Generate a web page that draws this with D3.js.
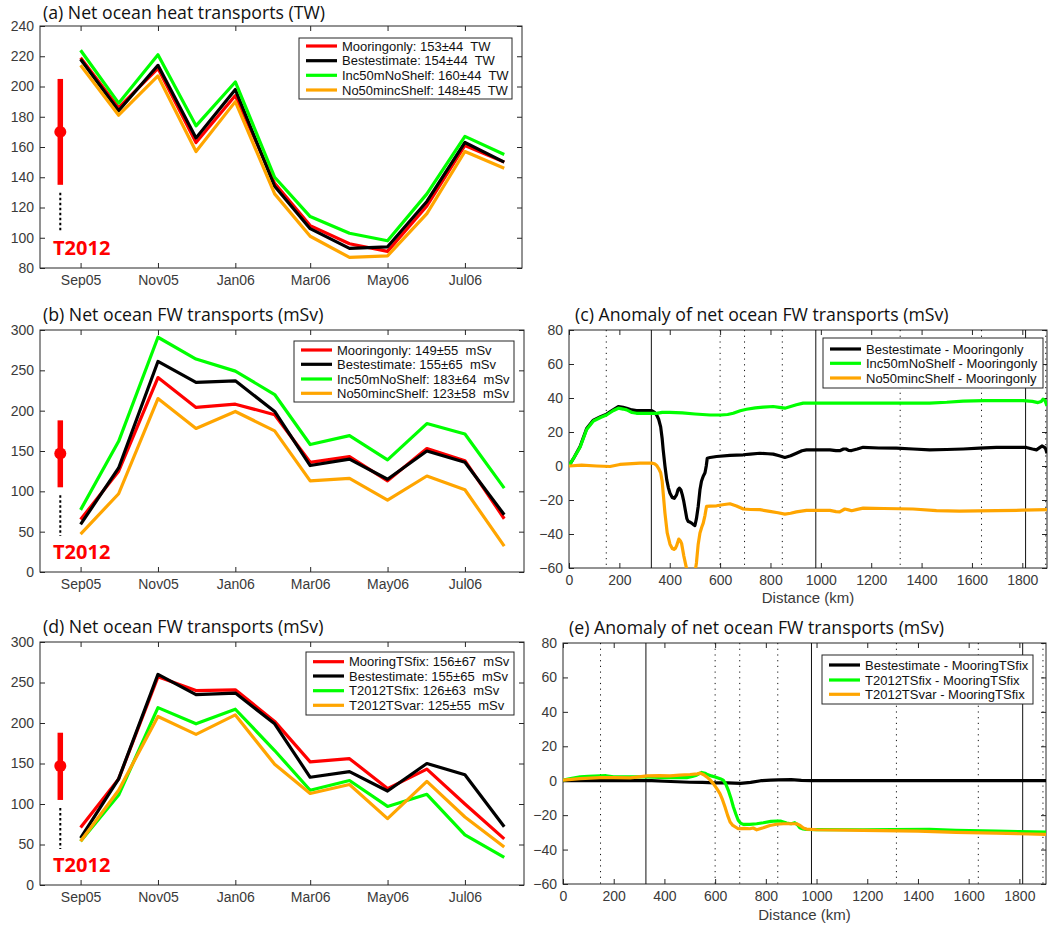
<!DOCTYPE html>
<html>
<head>
<meta charset="utf-8">
<script src="https://cdn.jsdelivr.net/npm/d3@7/dist/d3.min.js"></script>
<style>
  html, body { margin: 0; padding: 0; background: #fff; }
  svg { display: block; }
  .tick text { font-family: "Liberation Sans", Arial, sans-serif; font-size: 14px; fill: #3a3a3a; }
  .title { font-family: "Open Sans", sans-serif; font-size: 17.7px; fill: #111; }
  .leg { font-family: "Liberation Sans", Arial, sans-serif; font-size: 13px; fill: #111; white-space: pre; }
  .xlab { font-family: "Liberation Sans", Arial, sans-serif; font-size: 15px; fill: #3a3a3a; }
  .t2012 { font-family: "Open Sans", sans-serif; font-weight: 700; font-size: 20px; fill: #ff0000; }
</style>
</head>
<body>
<svg id="chart" width="1048" height="925"></svg>
<script>
// ---------------- DATA ----------------
const months = ["2005-09-01","2005-10-01","2005-11-01","2005-12-01","2006-01-01","2006-02-01",
                "2006-03-01","2006-04-01","2006-05-01","2006-06-01","2006-07-01","2006-08-01"];
const timeTicks = ["2005-09-01","2005-11-01","2006-01-01","2006-03-01","2006-05-01","2006-07-01"];

// (a) Net ocean heat transports (TW)
const heatMooringonly   = [219, 186, 212, 163, 194, 136, 108, 96, 91, 121, 161, 150];
const heatBestestimate  = [218, 184, 214, 166, 198, 134, 106, 93, 94, 124, 163, 150];
const heatInc50mNoShelf = [224, 189, 221, 174, 203, 140, 114, 103, 98, 129, 167, 155];
const heatNo50mincShelf = [214, 181, 207, 157, 190, 129, 101, 87, 88, 116, 157, 146];
const heatLabels = ["Mooringonly: 153\u00b144  TW", "Bestestimate: 154\u00b144  TW",
                    "Inc50mNoShelf: 160\u00b144  TW", "No50mincShelf: 148\u00b145  TW"];
const heatT2012 = [170, 135, 205];   // centre, low, high
const heatYTicks = [80, 100, 120, 140, 160, 180, 200, 220, 240];

// (b) Net ocean FW transports (mSv)
const fwMooringonly   = [65, 125, 241, 204, 208, 195, 136, 143, 113, 153, 138, 66];
const fwBestestimate  = [59, 129, 261, 235, 237, 199, 132, 140, 115, 150, 136, 71];
const fwInc50mNoShelf = [77, 162, 291, 264, 249, 220, 158, 169, 139, 184, 171, 104];
const fwNo50mincShelf = [47, 97, 215, 178, 199, 175, 113, 116, 89, 119, 102, 32];
const fwLabels = ["Mooringonly: 149\u00b155  mSv", "Bestestimate: 155\u00b165  mSv",
                  "Inc50mNoShelf: 183\u00b164  mSv", "No50mincShelf: 123\u00b158  mSv"];
const fwT2012 = [147, 105, 188];
const fwYTicks = [0, 50, 100, 150, 200, 250, 300];

// (d) Net ocean FW transports (mSv)
const fwMooringTSfix   = [71, 131, 257, 240, 241, 202, 152, 156, 119, 143, 100, 57];
const fwBestestimateD  = [58, 131, 260, 235, 237, 199, 133, 140, 116, 150, 136, 72];
const fwT2012TSfix     = [54, 111, 219, 199, 217, 166, 117, 129, 97, 112, 62, 34];
const fwT2012TSvar     = [54, 117, 208, 186, 210, 149, 113, 124, 82, 128, 84, 47];
const fwDLabels = ["MooringTSfix: 156\u00b167  mSv", "Bestestimate: 155\u00b165  mSv",
                   "T2012TSfix: 126\u00b163  mSv", "T2012TSvar: 125\u00b155  mSv"];
const fwDT2012 = [147, 105, 188];

// (c) Anomaly of net ocean FW transports (mSv) vs distance (km)
const cBest = [[0,0],[20,5],[44,11.5],[70,22],[97,27],[125,29],[149,30.5],[175,33],[196,35],[215,34.5],[229,34],[250,33],[268,32.6],[300,32.6],[328,32.6],[340,31.5],[348,30],[356,27.5],[364,23],[370,16],[374,9.5],[381,0],[388,-8],[395,-13],[401,-16],[410,-18.5],[418,-19],[427,-17],[433,-14],[438,-13],[444,-14],[450,-17],[456,-21],[462,-26],[468,-31],[473,-32.6],[480,-33],[487,-33.6],[494,-34.5],[500,-35],[506,-31],[513,-23.8],[520,-14],[526,-9],[533,-6],[540,-4],[545,0],[549,4.6],[560,5],[586,5.6],[639,6.2],[692,6.6],[720,7],[758,7.5],[790,7.2],[811,7],[835,6],[857,5],[880,6],[903,7.5],[925,9],[943,9.5],[1000,9.5],[1036,9.5],[1060,9],[1075,9],[1090,10],[1100,10],[1110,9.2],[1122,9.1],[1145,10],[1168,11],[1230,10.6],[1300,10.5],[1366,10],[1432,9.5],[1500,9.7],[1565,10],[1630,10.5],[1697,10.9],[1760,11],[1816,10.9],[1840,10],[1856,9.5],[1866,10.5],[1878,11.8],[1888,11],[1893,10],[1898,7.5]];
const cInc = [[0,0],[20,5],[44,11],[70,21.5],[97,26.5],[125,28.5],[149,30],[175,32.5],[196,34],[215,33.5],[229,33],[250,31.5],[268,31],[300,31],[328,31],[348,31],[370,31.5],[400,31.6],[450,31.2],[500,30.6],[560,30],[603,30],[630,30.3],[652,31],[680,32.5],[705,33.4],[740,34.2],[771,34.6],[811,35],[835,34.5],[857,34],[880,35],[903,36],[930,37],[983,37],[1100,37],[1200,37],[1300,37],[1432,37],[1500,37.5],[1565,38.2],[1650,38.5],[1750,38.5],[1803,38.5],[1840,38],[1862,37.3],[1875,38],[1882,39.3],[1890,38.5],[1898,35.4]];
const cNo = [[0,0],[50,0.5],[110,0],[163,-0.3],[202,0.9],[250,1.4],[282,1.7],[328,1.7],[340,1.3],[348,0.3],[356,-1.5],[364,-4],[370,-9],[374,-16],[381,-27.7],[390,-39.4],[401,-46],[410,-48.5],[417,-49],[422,-48.5],[427,-47],[436,-43],[442,-44],[447,-45.5],[456,-53],[467,-60.5],[475,-66],[485,-68],[495,-66],[502,-61],[506,-57],[513,-46],[520,-39.4],[527,-36],[533,-33.6],[540,-29],[546,-23.8],[560,-23.6],[586,-23.4],[610,-22.8],[639,-22.2],[665,-23.5],[692,-25.3],[720,-25.6],[758,-25.7],[797,-26.7],[830,-27.5],[857,-28.3],[880,-27.8],[903,-27],[943,-26.1],[1000,-26.1],[1036,-26.1],[1060,-26.8],[1075,-27],[1095,-25.3],[1110,-25.8],[1122,-26.3],[1145,-25.5],[1168,-24.8],[1250,-25],[1366,-25.3],[1459,-26.3],[1550,-26.5],[1697,-26.3],[1800,-26],[1898,-25.7]];
const cLabels = ["Bestestimate - Mooringonly", "Inc50mNoShelf - Mooringonly", "No50mincShelf - Mooringonly"];

// (e) Anomaly of net ocean FW transports (mSv) vs distance (km)
const eBest = [[0,0],[100,0],[200,0],[300,0],[350,0],[400,-0.3],[450,-0.6],[500,-0.9],[550,-1],[600,-1.2],[650,-1.3],[700,-1.5],[740,-1],[780,0],[820,0.3],[850,0.5],[900,0.6],[940,0.2],[980,0],[1100,0],[1300,0],[1500,0],[1700,0],[1905,0]];
const eTSfix = [[0,0.3],[30,1.2],[68,2.2],[100,2.6],[147,2.8],[170,2.9],[199,2.2],[260,2.2],[324,2.2],[360,2],[396,1.8],[450,1.8],[488,1.8],[510,2.5],[527,3.2],[547,4.8],[560,4.3],[567,3.8],[585,2.8],[600,2.2],[620,1.2],[632,0.3],[642,-2],[652,-5.6],[662,-10],[672,-15.3],[682,-19.5],[691,-23],[700,-24.6],[711,-25.4],[737,-25.4],[764,-25],[790,-24.4],[820,-23.6],[842,-23.4],[860,-23.5],[882,-24.6],[900,-25],[914,-24.4],[924,-25.5],[934,-27.3],[947,-28],[960,-28.3],[1000,-28.4],[1183,-28.5],[1300,-28.4],[1446,-28.3],[1550,-28.8],[1708,-29.3],[1800,-29.6],[1905,-29.9]];
const eTSvar = [[0,0.3],[68,1.2],[147,1.8],[200,1.8],[265,1.6],[300,2.2],[331,2.8],[380,3],[422,2.8],[460,3.2],[501,3.6],[530,4],[541,4.4],[555,3.5],[567,2.2],[580,0.5],[593,-1.7],[606,-4.5],[619,-7.5],[629,-11],[639,-15.3],[649,-20],[659,-24],[670,-26],[691,-27.9],[715,-27.7],[737,-27.9],[750,-27.5],[764,-28.5],[790,-27.3],[816,-26],[842,-25.3],[869,-25],[900,-25],[921,-25],[935,-26],[948,-27.5],[960,-28.1],[1000,-28.5],[1183,-28.9],[1400,-29.3],[1550,-30],[1708,-30.4],[1800,-30.8],[1905,-31.2]];
const eLabels = ["Bestestimate - MooringTSfix", "T2012TSfix - MooringTSfix", "T2012TSvar - MooringTSfix"];

const anomYTicks = [-60, -40, -20, 0, 20, 40, 60, 80];
const distTicks = [0, 200, 400, 600, 800, 1000, 1200, 1400, 1600, 1800];
const solidKm = [327, 980, 1813];
const dottedKm = [148, 600, 697, 847, 1315, 1638, 1893];

const RED = "#ff0000", BLACK = "#000000", GREEN = "#00ff00", ORANGE = "#ffa500";

// ---------------- DRAWING ----------------
const svg = d3.select("#chart");
const parse = d3.utcParse("%Y-%m-%d");
const dates = months.map(parse);
let clipId = 0;

function frameAndAxes(g, P, x, y, xTickVals, xFmt, yTickVals) {
  const w = P.right - P.left, h = P.bottom - P.top;
  g.append("g").attr("transform", `translate(0,${h})`)
    .call(d3.axisBottom(x).tickValues(xTickVals).tickFormat(xFmt).tickSizeInner(-5).tickSizeOuter(0).tickPadding(7))
    .call(s => s.select(".domain").remove());
  g.append("g")
    .call(d3.axisTop(x).tickValues(xTickVals).tickFormat("").tickSizeInner(-5).tickSizeOuter(0))
    .call(s => s.select(".domain").remove());
  g.append("g")
    .call(d3.axisLeft(y).tickValues(yTickVals).tickFormat(d3.format("d")).tickSizeInner(-5).tickSizeOuter(0).tickPadding(6))
    .call(s => s.select(".domain").remove());
  g.append("g").attr("transform", `translate(${w},0)`)
    .call(d3.axisRight(y).tickValues(yTickVals).tickFormat("").tickSizeInner(-5).tickSizeOuter(0))
    .call(s => s.select(".domain").remove());
  g.selectAll(".tick line").attr("stroke", "#262626");
  g.append("rect").attr("x", 0).attr("y", 0).attr("width", w).attr("height", h)
    .attr("fill", "none").attr("stroke", "#262626").attr("stroke-width", 1);
}

function addClip(g, w, h) {
  const id = "clip" + (clipId++);
  g.append("clipPath").attr("id", id).append("rect").attr("width", w).attr("height", h);
  return `url(#${id})`;
}

function legend(g, box, rows, labels, colors) {
  g.append("rect").attr("x", box[0]).attr("y", box[1]).attr("width", box[2] - box[0]).attr("height", box[3] - box[1])
    .attr("fill", "#fff").attr("stroke", "#262626").attr("stroke-width", 1);
  labels.forEach((t, i) => {
    g.append("line").attr("x1", box[0] + 7).attr("x2", box[0] + 38).attr("y1", rows[i]).attr("y2", rows[i])
      .attr("stroke", colors[i]).attr("stroke-width", 3.2);
    g.append("text").attr("class", "leg").attr("xml:space", "preserve")
      .attr("x", box[0] + 43).attr("y", rows[i]).attr("dy", "0.35em").text(t);
  });
}

function timePanel(P, title, titleY, yDomain, yTicks, series, labels, colors, t2012, legBox, legRows) {
  const w = P.right - P.left, h = P.bottom - P.top;
  const x = d3.scaleUtc().domain([parse("2005-07-31"), parse("2006-08-15")]).range([0, 482]);
  const y = d3.scaleLinear().domain(yDomain).range([h, 0]);
  const g = svg.append("g").attr("transform", `translate(${P.left},${P.top})`);
  frameAndAxes(g, P, x, y, timeTicks.map(parse), d3.utcFormat("%b%y"), yTicks);
  const clip = addClip(g, w, h);
  const line = d3.line().x((d, i) => x(dates[i])).y(d => y(d));
  series.forEach((s, i) => {
    g.append("path").datum(s).attr("d", line).attr("fill", "none").attr("stroke", colors[i])
      .attr("stroke-width", 3.2).attr("stroke-linejoin", "round").attr("clip-path", clip);
  });
  // T2012 estimate
  const tx = x(parse("2005-08-16"));
  g.append("line").attr("x1", tx).attr("x2", tx).attr("y1", y(t2012[1])).attr("y2", y(t2012[2]))
    .attr("stroke", RED).attr("stroke-width", 5.5);
  g.append("circle").attr("cx", tx).attr("cy", y(t2012[0])).attr("r", 6).attr("fill", RED);
  g.append("line").attr("x1", tx).attr("x2", tx).attr("y1", y(t2012[1]) + 8).attr("y2", h - 36)
    .attr("stroke", BLACK).attr("stroke-width", 2).attr("stroke-dasharray", "2.5,2.5");
  g.append("text").attr("class", "t2012").attr("x", 13).attr("y", h - 13).text("T2012");
  legend(g, legBox.map((v, i) => v - (i % 2 === 0 ? P.left : P.top)), legRows.map(r => r - P.top), labels, colors);
  svg.append("text").attr("class", "title").attr("x", P.left + 3).attr("y", titleY).text(title);
}

function distPanel(P, title, titleY, kmMax, series, labels, colors, legBox, legRows, xlabY) {
  const w = P.right - P.left, h = P.bottom - P.top;
  const x = d3.scaleLinear().domain([0, kmMax]).range([0, w]);
  const y = d3.scaleLinear().domain([-60, 80]).range([h, 0]);
  const g = svg.append("g").attr("transform", `translate(${P.left},${P.top})`);
  frameAndAxes(g, P, x, y, distTicks, d3.format("d"), anomYTicks);
  solidKm.forEach(k => g.append("line").attr("x1", x(k)).attr("x2", x(k)).attr("y1", 0).attr("y2", h)
    .attr("stroke", "#111").attr("stroke-width", 1));
  dottedKm.forEach(k => g.append("line").attr("x1", x(k)).attr("x2", x(k)).attr("y1", 0).attr("y2", h)
    .attr("stroke", "#111").attr("stroke-width", 1).attr("stroke-dasharray", "1.2,4.5"));
  const clip = addClip(g, w, h);
  const line = d3.line().x(d => x(d[0])).y(d => y(d[1]));
  series.forEach((s, i) => {
    g.append("path").datum(s).attr("d", line).attr("fill", "none").attr("stroke", colors[i])
      .attr("stroke-width", 3.2).attr("stroke-linejoin", "round").attr("clip-path", clip);
  });
  legend(g, legBox.map((v, i) => v - (i % 2 === 0 ? P.left : P.top)), legRows.map(r => r - P.top), labels, colors);
  svg.append("text").attr("class", "xlab").attr("x", (P.left + P.right) / 2).attr("y", xlabY)
    .attr("text-anchor", "middle").text("Distance (km)");
  svg.append("text").attr("class", "title").attr("x", P.left + 6).attr("y", titleY).text(title);
}

timePanel({left: 40, right: 522, top: 26, bottom: 268}, "(a) Net ocean heat transports (TW)", 19,
  [80, 240], heatYTicks,
  [heatMooringonly, heatBestestimate, heatInc50mNoShelf, heatNo50mincShelf], heatLabels,
  [RED, BLACK, GREEN, ORANGE], heatT2012, [299, 38, 512, 99], [46, 60.7, 75.3, 90]);

timePanel({left: 40, right: 524, top: 330, bottom: 572}, "(b) Net ocean FW transports (mSv)", 321,
  [0, 300], fwYTicks,
  [fwMooringonly, fwBestestimate, fwInc50mNoShelf, fwNo50mincShelf], fwLabels,
  [RED, BLACK, GREEN, ORANGE], fwT2012, [294, 341, 514, 402], [350, 364.3, 379, 393.3]);

timePanel({left: 40, right: 524, top: 642, bottom: 885}, "(d) Net ocean FW transports (mSv)", 633,
  [0, 300], fwYTicks,
  [fwMooringTSfix, fwBestestimateD, fwT2012TSfix, fwT2012TSvar], fwDLabels,
  [RED, BLACK, GREEN, ORANGE], fwDT2012, [306, 652, 514, 715], [661.7, 676, 690.7, 705.3]);

distPanel({left: 569, right: 1047, top: 330, bottom: 568}, "(c) Anomaly of net ocean FW transports (mSv)", 321,
  1898, [cBest, cInc, cNo], cLabels, [BLACK, GREEN, ORANGE], [823, 338, 1043, 388], [349, 363.3, 378], 603);

distPanel({left: 563, right: 1046, top: 643, bottom: 884}, "(e) Anomaly of net ocean FW transports (mSv)", 634,
  1905, [eBest, eTSfix, eTSvar], eLabels, [BLACK, GREEN, ORANGE], [822, 655, 1033, 704], [665, 680, 694.3], 920);
</script>
</body>
</html>
